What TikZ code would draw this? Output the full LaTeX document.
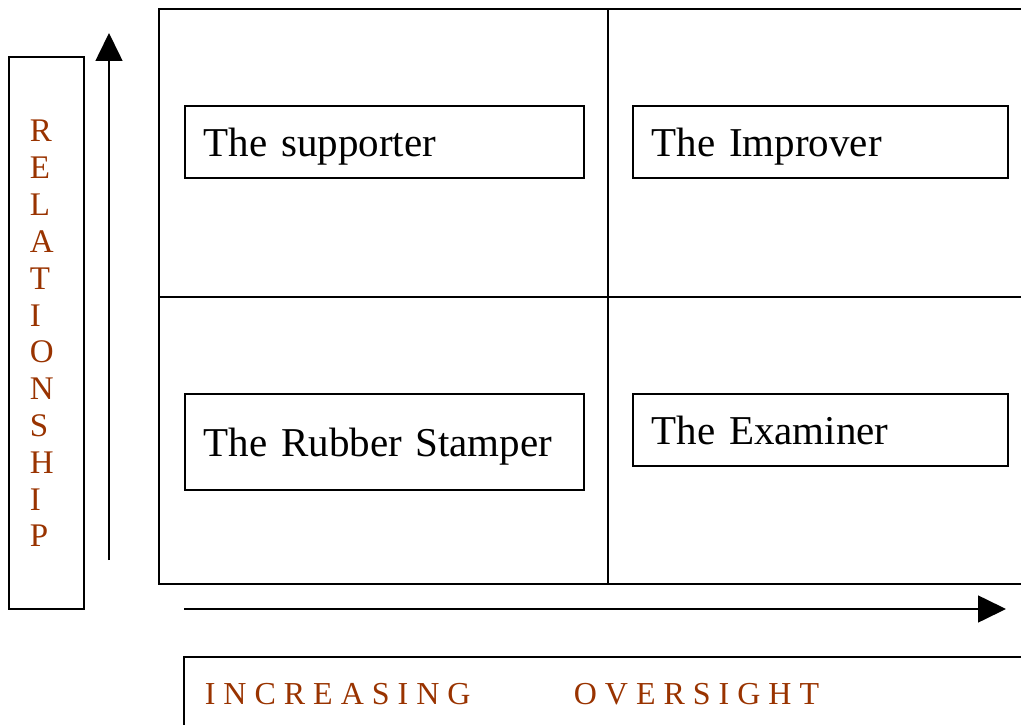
\documentclass[tikz,border=0pt]{standalone}
\usepackage{fontspec}
\setmainfont{Liberation Serif}
\usetikzlibrary{arrows.meta}
\definecolor{rusty}{HTML}{993300}

\begin{document}
\begin{tikzpicture}[x=1pt, y=-1pt, line width=1.6pt,
  rolebox/.style={draw, anchor=north west, align=left, inner xsep=19pt, inner ysep=0pt,
    text height=32pt, text depth=2pt, font=\fontsize{41}{49}\selectfont},
  axislabel/.style={text=rusty, inner sep=0pt, anchor=base west,
    font=\fontsize{32}{37}\selectfont},
  axisarrow/.style={-{Triangle[length=28pt,width=27pt]}}]
  \useasboundingbox (0,0) rectangle (1021,725);
  \clip (0,0) rectangle (1021,725);

  % the four quadrants
  \draw (159,9) rectangle (1040,584);
  \draw (608,9) -- (608,584);
  \draw (159,297) -- (1040,297);

  % the roles
  \node[rolebox, text width=361pt, minimum height=72pt] (sup) at (184,105) {The supporter};
  \node[rolebox, text width=337pt, minimum height=72pt] (imp) at (632,105) {The Improver};
  \node[rolebox, text width=361pt, minimum height=96pt] (rub) at (184,393) {The Rubber Stamper};
  \node[rolebox, text width=337pt, minimum height=72pt] (exa) at (632,393) {The Examiner};

  % vertical axis
  \draw (9,57) rectangle (84,609);
  \foreach \ch [count=\i from 0] in {R,E,L,A,T,I,O,N,S,H,I,P}
    \node[axislabel, font=\fontsize{33}{37}\selectfont] (rel\i) at (29,142+36.8*\i) {\ch};
  \coordinate (vlow) at (109,560);
  \coordinate (vtop) at (109,33);
  \draw[axisarrow] (vlow) -- (vtop);

  % horizontal axis
  \coordinate (hleft) at (184,609);
  \coordinate (hright) at (1006,609);
  \draw[axisarrow] (hleft) -- (hright);
  \draw (184,657) rectangle (1040,740);
  \node[axislabel] (over) at (204,704) {\makebox[369pt][l]{I N C R E A S I N G}O V E R S I G H T};
\end{tikzpicture}
\end{document}
